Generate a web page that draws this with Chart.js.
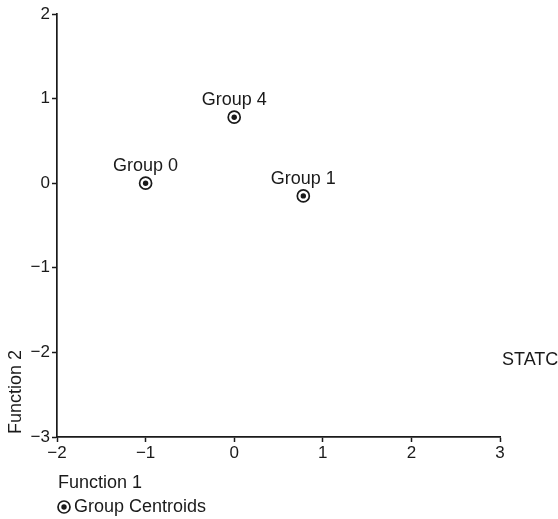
<!DOCTYPE html>
<html>
<head>
<meta charset="utf-8">
<script src="https://cdn.jsdelivr.net/npm/chart.js@4.4.0/dist/chart.umd.min.js"></script>
<style>
  html, body { margin: 0; padding: 0; background: #fff; }
  #wrap { width: 558px; height: 519px; }
</style>
</head>
<body>
<div id="wrap"><canvas id="chart" width="558" height="519"></canvas></div>
<script>
// group centroids
var groupNames = ['Group 0', 'Group 1', 'Group 4'];
var function1 = [-1.0, 0.78, 0.0];
var function2 = [0.0, -0.15, 0.78];
var xTicks = [-2, -1, 0, 1, 2, 3];
var yTicks = [-3, -2, -1, 0, 1, 2];

var FONT = '"Liberation Sans", Arial, sans-serif';
var INK = '#1a1a1a';

var points = groupNames.map(function (n, i) { return { x: function1[i], y: function2[i] }; });

function minus(v) { return v < 0 ? '\u2212' + Math.abs(v) : '' + v; }

function drawCentroid(ctx, x, y) {
    ctx.save();
    ctx.strokeStyle = INK;
    ctx.lineWidth = 1.7;
    ctx.fillStyle = '#fff';
    ctx.beginPath(); ctx.arc(x, y, 6, 0, Math.PI * 2); ctx.fill(); ctx.stroke();
    ctx.fillStyle = INK;
    ctx.beginPath(); ctx.arc(x, y, 2.7, 0, Math.PI * 2); ctx.fill();
    ctx.restore();
}

var extras = {
    id: 'extras',
    afterDatasetsDraw: function (chart) {
        var ctx = chart.ctx;
        var xs = chart.scales.x, ys = chart.scales.y;
        ctx.save();
        ctx.fillStyle = INK;
        ctx.font = '18px ' + FONT;
        // group labels above centroids
        ctx.textAlign = 'center';
        ctx.textBaseline = 'alphabetic';
        points.forEach(function (p, i) {
            var px = xs.getPixelForValue(p.x), py = ys.getPixelForValue(p.y);
            drawCentroid(ctx, px, py);
            ctx.fillText(groupNames[i], px, py - 12);
        });
        // axis titles
        ctx.textAlign = 'left';
        ctx.textBaseline = 'middle';
        ctx.fillText('Function 1', 58, 483);
        ctx.save();
        ctx.translate(16, 434);
        ctx.rotate(-Math.PI / 2);
        ctx.fillText('Function 2', 0, 0);
        ctx.restore();
        // stray text at the right edge
        ctx.fillText('STATC', 502, 360);
        // legend
        drawCentroid(ctx, 64, 507);
        ctx.fillText('Group Centroids', 74, 507);
        ctx.restore();
    }
};

new Chart(document.getElementById('chart'), {
    type: 'scatter',
    data: {
        datasets: [{
            label: 'Group Centroids',
            data: points,
            pointRadius: 0,
            pointHoverRadius: 0
        }]
    },
    options: {
        responsive: false,
        animation: false,
        layout: { padding: { top: 14, right: 58, left: 0, bottom: 0 } },
        plugins: { legend: { display: false }, tooltip: { enabled: false } },
        scales: {
            x: {
                type: 'linear', min: -2, max: 3,
                afterBuildTicks: function (s) { s.ticks = xTicks.map(function (v) { return { value: v }; }); },
                afterFit: function (s) { s.height = 82; },
                grid: { drawOnChartArea: false, drawTicks: true, tickLength: 5, color: INK, tickWidth: 1.5 },
                border: { color: INK, width: 1.7 },
                ticks: { color: INK, font: { family: FONT, size: 17 }, padding: 1, callback: minus }
            },
            y: {
                type: 'linear', min: -3, max: 2,
                afterBuildTicks: function (s) { s.ticks = yTicks.map(function (v) { return { value: v }; }); },
                afterFit: function (s) { s.width = 57; },
                grid: { drawOnChartArea: false, drawTicks: true, tickLength: 5, color: INK, tickWidth: 1.5 },
                border: { color: INK, width: 1.7 },
                ticks: { color: INK, font: { family: FONT, size: 17 }, padding: 2, callback: minus }
            }
        }
    },
    plugins: [extras]
});
</script>
</body>
</html>
